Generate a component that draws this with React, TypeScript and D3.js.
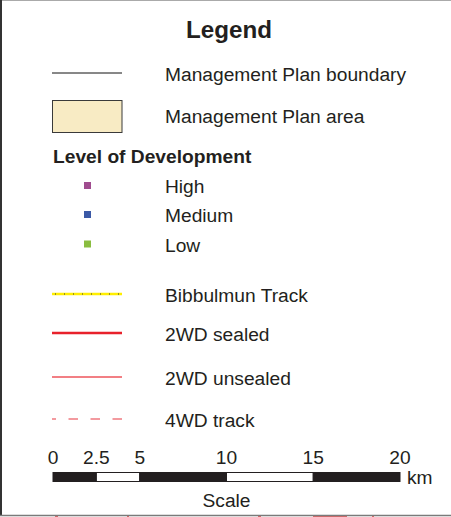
import React from 'react'
import * as d3 from 'd3'

// legend entries
const lineItems = ['Management Plan boundary']
const areaItems = ['Management Plan area']
const devLevels = ['High', 'Medium', 'Low']
const devColors = ['#a04c8f', '#3b59a6', '#8abd40']
const routeItems = ['Bibbulmun Track', '2WD sealed', '2WD unsealed', '4WD track']
const scaleTicks = [0, 2.5, 5, 10, 15, 20]
const scaleSegments = [
  { from: 0, to: 2.5, dark: true },
  { from: 2.5, to: 5, dark: false },
  { from: 5, to: 10, dark: true },
  { from: 10, to: 15, dark: false },
  { from: 15, to: 20, dark: true },
]
// bits of the map peeking out under the frame
const mapBits = [
  { x: 55, w: 3 }, { x: 127, w: 2 }, { x: 258, w: 3 }, { x: 313, w: 34 }, { x: 372, w: 2 },
]

const W = 451
const H = 517
const FONT = '"Liberation Sans", Arial, Helvetica, sans-serif'
const INK = '#231f20'
const FS = 19.2

// row layout (swatch centre lines)
const devRows = [185.5, 214.5, 244]
const routeRows = [294, 333, 377, 419]

export default function App() {
  const x = d3.scaleLinear().domain([0, 20]).range([53, 400])
  const swatchX1 = 52
  const swatchX2 = 122
  const labelX = 165

  const routeStyle = (name: string) => {
    if (name === '2WD sealed') return { stroke: '#e8212b', width: 2.6, dash: undefined, offset: 0 }
    if (name === '2WD unsealed') return { stroke: '#f27f84', width: 2, dash: undefined, offset: 0 }
    return { stroke: '#f07a80', width: 1.6, dash: '9.5,12.5', offset: 5.5 }
  }

  return (
    <div style={{ position: 'absolute', left: 0, top: 0 }}>
      <svg width={W} height={H} style={{ display: 'block', fontFamily: FONT }}>
        <rect x={0} y={0} width={W} height={H} fill="#ffffff" />

        {/* frame */}
        <line x1={0} x2={W} y1={0.5} y2={0.5} stroke="#aaaaaa" strokeWidth={1.2} />
        <line x1={1} x2={1} y1={0} y2={516} stroke="#333333" strokeWidth={2} />
        <line x1={0} x2={W} y1={515.5} y2={515.5} stroke="#7a7a7a" strokeWidth={1.5} />
        {mapBits.map((b, i) => (
          <rect key={i} x={b.x} y={516.3} width={b.w} height={1} fill="#c23a3a" />
        ))}

        <text x={229} y={37.7} textAnchor="middle" fontSize={24.2} fontWeight="bold" fill={INK}>
          Legend
        </text>

        {lineItems.map((d) => (
          <g key={d}>
            <line x1={swatchX1} x2={swatchX2} y1={73} y2={73} stroke="#111" strokeWidth={1} />
            <text x={labelX} y={81.3} fontSize={FS} fill={INK}>{d}</text>
          </g>
        ))}

        {areaItems.map((d) => (
          <g key={d}>
            <rect x={52.5} y={100.5} width={69.5} height={32} fill="#f8ebc4" stroke="#3a3a3a" strokeWidth={1} />
            <text x={labelX} y={123.3} fontSize={FS} fill={INK}>{d}</text>
          </g>
        ))}

        <text x={53} y={163.3} fontSize={FS} fontWeight="bold" fill={INK}>
          Level of Development
        </text>
        {devLevels.map((d, i) => (
          <g key={d}>
            <rect x={84} y={devRows[i] - 3.5} width={7} height={7} fill={devColors[i]} />
            <text x={labelX} y={devRows[i] + 7.6} fontSize={FS} fill={INK}>{d}</text>
          </g>
        ))}

        {routeItems.map((d, i) => {
          const y = routeRows[i]
          let mark
          if (d === 'Bibbulmun Track') {
            mark = (
              <g>
                <line x1={swatchX1} x2={swatchX2} y1={y} y2={y} stroke="#ffee00" strokeWidth={2.6} />
                <line x1={swatchX1 + 3} x2={swatchX2} y1={y} y2={y} stroke="#333" strokeWidth={1} strokeDasharray="1,8" />
              </g>
            )
          } else {
            const s = routeStyle(d)
            mark = (
              <line x1={swatchX1} x2={swatchX2} y1={y} y2={y} stroke={s.stroke} strokeWidth={s.width}
                strokeDasharray={s.dash} strokeDashoffset={s.offset} />
            )
          }
          return (
            <g key={d}>
              {mark}
              <text x={labelX} y={y + 7.6} fontSize={FS} fill={INK}>{d}</text>
            </g>
          )
        })}

        {/* scale bar */}
        {scaleTicks.map((t) => (
          <text key={t} x={x(t)} y={464} textAnchor="middle" fontSize={FS} fill={INK}>{t}</text>
        ))}
        {scaleSegments.map((s, i) => (
          <rect key={i} x={x(s.from)} y={472.5} width={x(s.to) - x(s.from)} height={9}
            fill={s.dark ? '#231f20' : '#ffffff'} stroke="#231f20" strokeWidth={1} />
        ))}
        <text x={407} y={484.3} fontSize={FS} fill={INK}>km</text>
        <text x={x(10)} y={507} textAnchor="middle" fontSize={FS} fill={INK}>Scale</text>
      </svg>
    </div>
  )
}
